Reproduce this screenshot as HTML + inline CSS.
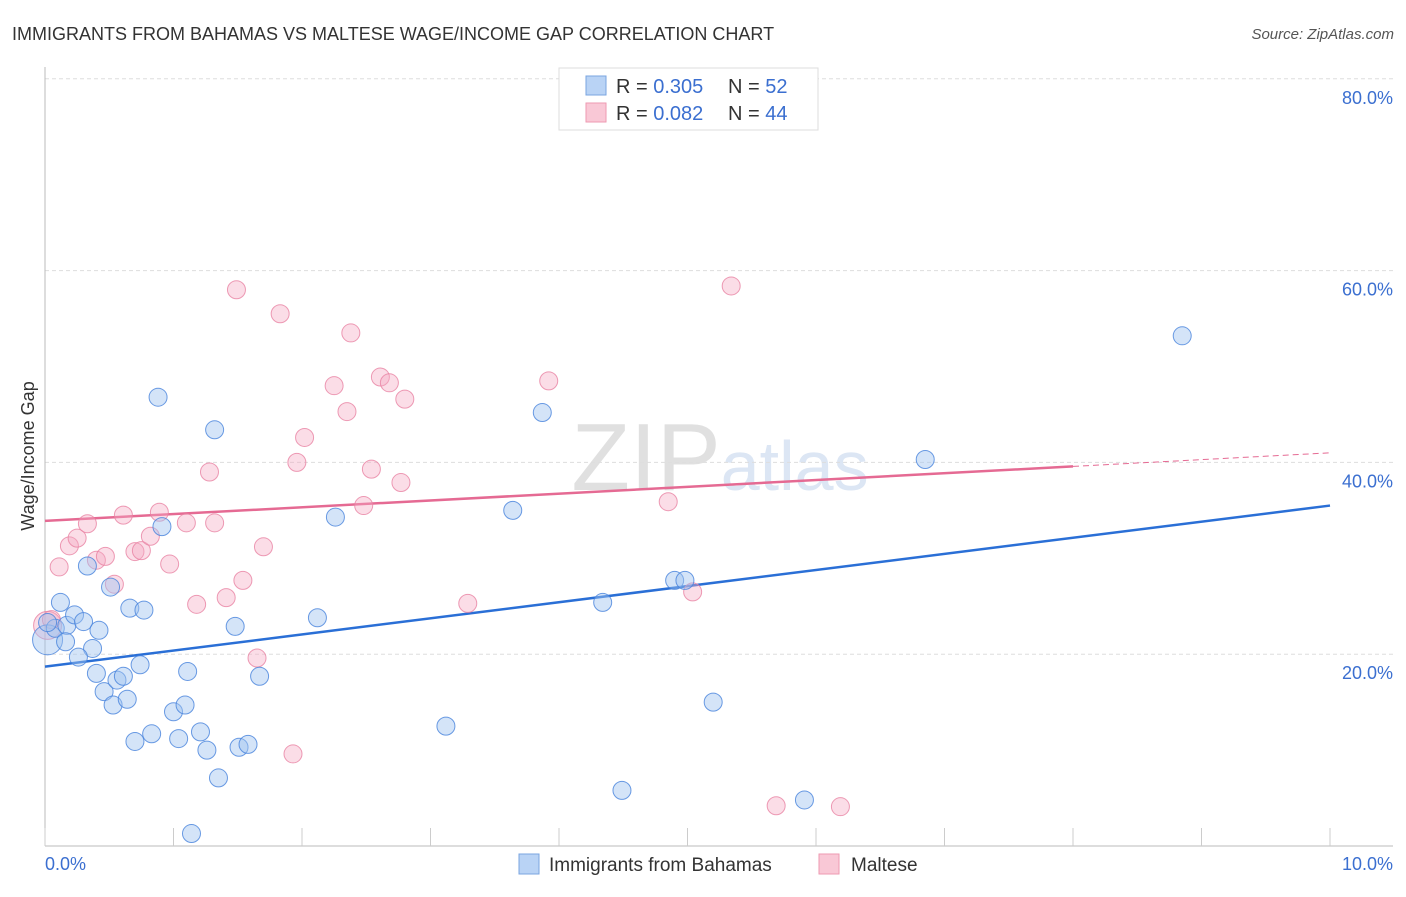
<!DOCTYPE html>
<html><head><meta charset="utf-8"><style>
body{margin:0;background:#fff;font-family:"Liberation Sans",sans-serif}
svg text{font-family:"Liberation Sans",sans-serif}
</style></head><body>
<svg id="chart" width="1406" height="892" viewBox="0 0 1406 892">
<text x="12" y="40" font-size="18" fill="#333">IMMIGRANTS FROM BAHAMAS VS MALTESE WAGE/INCOME GAP CORRELATION CHART</text>
<text x="1394" y="39" font-size="15" fill="#555" font-style="italic" text-anchor="end">Source: ZipAtlas.com</text>
<text x="720" y="490" font-size="96" fill="#e6e6e6" text-anchor="middle" font-family="Liberation Serif"><tspan fill="#e0e0e0">ZIP</tspan><tspan fill="#dce6f4" font-family="Liberation Sans" font-size="70">atlas</tspan></text>
<g id="grid"></g><g id="axes"></g><g id="lines"></g><g id="pts"></g>
<text transform="translate(34,456) rotate(-90)" font-size="18" fill="#333" text-anchor="middle">Wage/Income Gap</text>
<text x="45" y="870" font-size="18" fill="#3b6fd0">0.0%</text>
<text x="1393" y="870" font-size="18" fill="#3b6fd0" text-anchor="end">10.0%</text>
<g>
<rect x="559" y="68" width="259" height="62" fill="#fff" stroke="#ddd"/>
<rect x="586" y="76" width="20" height="19" fill="#b9d3f5" stroke="#7aa5e0"/>
<rect x="586" y="103" width="20" height="19" fill="#f9c8d6" stroke="#ee9ab2"/>
<text x="616" y="93" font-size="20" fill="#333">R = <tspan fill="#3b6fd0">0.305</tspan><tspan x="728">N = </tspan><tspan fill="#3b6fd0">52</tspan></text>
<text x="616" y="120" font-size="20" fill="#333">R = <tspan fill="#3b6fd0">0.082</tspan><tspan x="728">N = </tspan><tspan fill="#3b6fd0">44</tspan></text>
</g>
<g>
<rect x="519" y="854" width="20" height="20" fill="#b9d3f5" stroke="#7aa5e0"/>
<text x="549" y="871" font-size="19" fill="#333">Immigrants from Bahamas</text>
<rect x="819" y="854" width="20" height="20" fill="#f9c8d6" stroke="#ee9ab2"/>
<text x="851" y="871" font-size="19" fill="#333">Maltese</text>
</g>
</svg>
<script>
const yTicks=[20,40,60,80];
const yTickLabels=["20.0%","40.0%","60.0%","80.0%"];
const xTicks=[0,1,2,3,4,5,6,7,8,9,10];
const blueX=[0.02,0.08,0.12,0.17,0.16,0.23,0.30,0.33,0.37,0.40,0.42,0.26,0.46,0.51,0.53,0.56,0.61,0.64,0.66,0.70,0.74,0.77,0.83,0.88,0.91,1.00,1.04,1.09,1.11,1.21,1.26,1.32,1.35,1.14,1.48,1.51,1.58,1.67,2.12,2.26,3.12,3.64,3.87,4.34,4.49,4.90,4.98,5.20,5.91,6.85,8.85,0.02];
const blueY=[21.5,22.7,25.4,23.0,21.3,24.1,23.4,29.2,20.6,18.0,22.5,19.7,16.1,27.0,14.7,17.3,17.7,15.3,24.8,10.9,18.9,24.6,11.7,46.8,33.3,14.0,11.2,14.7,18.2,11.9,10.0,43.4,7.1,1.3,22.9,10.3,10.6,17.7,23.8,34.3,12.5,35.0,45.2,25.4,5.8,27.7,27.7,15.0,4.8,40.3,53.2,23.3];
const pinkX=[0.02,0.05,0.11,0.19,0.25,0.33,0.40,0.47,0.54,0.61,0.70,0.75,0.82,0.89,0.97,1.10,1.18,1.28,1.32,1.41,1.49,1.54,1.65,1.70,1.83,1.93,2.02,1.96,2.25,2.35,2.38,2.48,2.54,2.61,2.68,2.77,2.80,3.29,3.92,4.85,5.04,5.34,5.69,6.19];
const pinkY=[23.0,23.6,29.1,31.3,32.1,33.6,29.8,30.2,27.3,34.5,30.7,30.8,32.3,34.8,29.4,33.7,25.2,39.0,33.7,25.9,58.0,27.7,19.6,31.2,55.5,9.6,42.6,40.0,48.0,45.3,53.5,35.5,39.3,48.9,48.3,37.9,46.6,25.3,48.5,35.9,26.5,58.4,4.2,4.1];
const blueTrend=[18.7,35.5];
const pinkTrend=[33.9,41.0];
const NS="http://www.w3.org/2000/svg";
const X=v=>45+v*128.5, Y=v=>846-v*9.59;
function mk(t,a,p){const e=document.createElementNS(NS,t);for(const k in a)e.setAttribute(k,a[k]);document.getElementById(p).appendChild(e);return e;}
yTicks.forEach((t,i)=>{
 const l=mk('line',{x1:45,x2:1393,y1:Y(t),y2:Y(t),stroke:'#ddd','stroke-dasharray':'4,3'},'grid');
 
 
 const tx=mk('text',{x:1393,y:Y(t)+25,'font-size':18,fill:'#3b6fd0','text-anchor':'end'},'grid');
 tx.textContent=yTickLabels[i];
 
 
});
const ya=mk('line',{x1:45,x2:45,y1:67,y2:846,stroke:'#bbb'},'axes');


const xa=mk('line',{x1:45,x2:1393,y1:846,y2:846,stroke:'#bbb'},'axes');


xTicks.forEach(t=>{
 const l=mk('line',{x1:X(t),x2:X(t),y1:828,y2:846,stroke:'#ccc'},'axes');
 
 
});
const bl=mk('line',{x1:X(0),y1:Y(blueTrend[0]),x2:X(10),y2:Y(blueTrend[1]),stroke:'#2a6fd6','stroke-width':2.5},'lines');


const xs=8;const pm=pinkTrend[0]+(pinkTrend[1]-pinkTrend[0])*xs/10;
const pl=mk('line',{x1:X(0),y1:Y(pinkTrend[0]),x2:X(xs),y2:Y(pm),stroke:'#e56a93','stroke-width':2.5},'lines');


const pd=mk('line',{x1:X(xs),y1:Y(pm),x2:X(10),y2:Y(pinkTrend[1]),stroke:'#e56a93','stroke-width':1,'stroke-dasharray':'6,4'},'lines');


pinkX.forEach((v,i)=>{
 const c=mk('circle',{cx:X(v),cy:Y(pinkY[i]),r:i==0?14:9,fill:'rgba(246,170,195,0.4)',stroke:'rgba(232,130,162,0.8)','stroke-width':1},'pts');
 
 
});
blueX.forEach((v,i)=>{
 const c=mk('circle',{cx:X(v),cy:Y(blueY[i]),r:i==0?15:9,fill:'rgba(160,195,240,0.45)',stroke:'rgba(70,130,220,0.8)','stroke-width':1},'pts');
 
 
});
</script>
</body></html>
